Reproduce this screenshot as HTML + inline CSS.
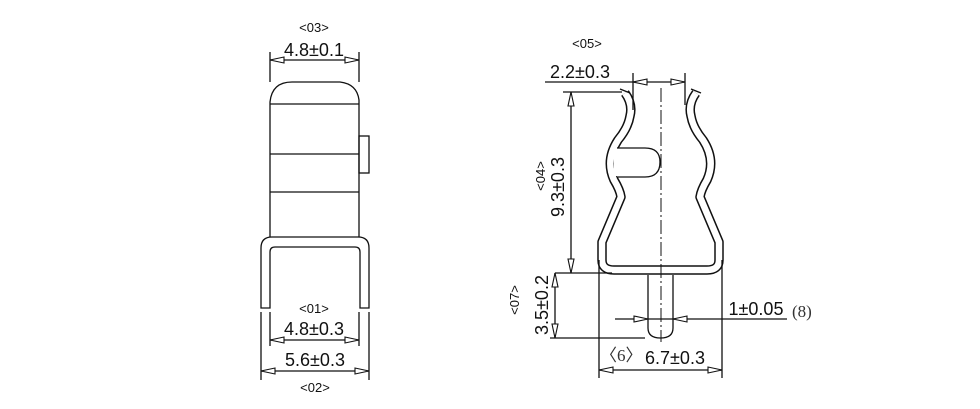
<!DOCTYPE html>
<html><head><meta charset="utf-8"><style>
html,body{margin:0;padding:0;background:#fff;}
svg{display:block}
text{font-family:"Liberation Sans",sans-serif;fill:#111}
.d{font-size:18px}
.s{font-size:13px}
.sf{font-family:"Liberation Serif",serif;font-size:17px;fill:#333}
</style></head><body>
<svg width="980" height="409" viewBox="0 0 980 409" xmlns="http://www.w3.org/2000/svg">
<g fill="none" stroke="#111" stroke-width="1.3">
<path d="M270,237 L270,102 Q272,82 292,82 L340,82 Q357,84 359,100 L359,237"/>
<line x1="270" y1="104" x2="359" y2="104"/>
<line x1="270" y1="154" x2="359" y2="154"/>
<line x1="270" y1="192" x2="359" y2="192"/>
<rect x="359" y="136" width="10" height="37"/>
<path d="M261,308 L261,248 Q261,237 272,237 L358,237 Q369,237 369,248 L369,308 L360,308 L360,252 Q360,247 355,247 L275,247 Q270,247 270,252 L270,308 Z"/>
<line x1="270" y1="52" x2="270" y2="82"/><line x1="359" y1="52" x2="359" y2="82"/>
<line x1="270" y1="60" x2="359" y2="60"/>
<line x1="270" y1="312" x2="270" y2="346"/><line x1="359" y1="312" x2="359" y2="346"/>
<line x1="270" y1="340" x2="359" y2="340"/>
<line x1="261" y1="312" x2="261" y2="380"/><line x1="369" y1="312" x2="369" y2="380"/>
<line x1="261" y1="371" x2="369" y2="371"/>
</g>
<g fill="#fff" stroke="#111" stroke-width="1.1">
<polygon points="270,60 284,57 284,63"/><polygon points="359,60 345,57 345,63"/>
<polygon points="270,340 284,337 284,343"/><polygon points="359,340 345,337 345,343"/>
<polygon points="261,371 275,368 275,374"/><polygon points="369,371 355,368 355,374"/>
</g>
<text class="s" x="314" y="32" text-anchor="middle">&lt;03&gt;</text>
<text class="d" x="314" y="56" text-anchor="middle">4.8±0.1</text>
<text class="s" x="314" y="313" text-anchor="middle">&lt;01&gt;</text>
<text class="d" x="314" y="335" text-anchor="middle">4.8±0.3</text>
<text class="d" x="315" y="366" text-anchor="middle">5.6±0.3</text>
<text class="s" x="315" y="392" text-anchor="middle">&lt;02&gt;</text>

<g fill="none" stroke-linejoin="round">
<path d="M625,93 Q633,104 630,116 Q628,128 618,140 Q605,160 614,180 Q620,190 621,197 L602,242 L602,260 Q602,270 614,270 L707,270 Q719,270 719,260 L719,242 L700,197 Q701,190 707,180 Q716,160 703,140 Q693,128 691,116 Q688,104 696,93" stroke="#111" stroke-width="9.5"/>
<path d="M625,93 Q633,104 630,116 Q628,128 618,140 Q605,160 614,180 Q620,190 621,197 L602,242 L602,260 Q602,270 614,270 L707,270 Q719,270 719,260 L719,242 L700,197 Q701,190 707,180 Q716,160 703,140 Q693,128 691,116 Q688,104 696,93" stroke="#fff" stroke-width="6.5"/>
</g>
<g fill="#fff" stroke="#111" stroke-width="1.3">
<path d="M617,148 L645,148 Q660,148 660,162 Q660,177 645,177 L617,177"/>
<path d="M648,275 L648,328 Q648,338 660.5,338 Q673,338 673,328 L673,275"/>
<line x1="620" y1="89" x2="630" y2="93"/><line x1="691" y1="89" x2="701" y2="93"/>
</g>
<rect x="614" y="149" width="5" height="27" fill="#fff"/>
<g fill="none" stroke="#111" stroke-width="1.3">
<line x1="661" y1="88" x2="661" y2="342" stroke-dasharray="14,3,2,3" stroke-width="1"/>
<line x1="545" y1="82" x2="685" y2="82"/>
<line x1="633" y1="73" x2="633" y2="110"/><line x1="685" y1="73" x2="685" y2="105"/>
<line x1="563" y1="92" x2="622" y2="92"/>
<line x1="555" y1="273" x2="612" y2="273"/>
<line x1="571" y1="92" x2="571" y2="273"/>
<line x1="555" y1="273" x2="555" y2="338"/>
<line x1="550" y1="338" x2="645" y2="338"/>
<line x1="615" y1="319" x2="787" y2="319"/>
<line x1="599" y1="260" x2="599" y2="378"/><line x1="722" y1="260" x2="722" y2="378"/>
<line x1="599" y1="370" x2="722" y2="370"/>
</g>
<g fill="#fff" stroke="#111" stroke-width="1.1">
<polygon points="633,82 647,79 647,85"/><polygon points="685,82 671,79 671,85"/>
<polygon points="571,92 568,106 574,106"/><polygon points="571,273 568,259 574,259"/>
<polygon points="555,273 552,287 558,287"/><polygon points="555,338 552,324 558,324"/>
<polygon points="648,319 634,316 634,322"/><polygon points="673,319 687,316 687,322"/>
<polygon points="599,370 613,367 613,373"/><polygon points="722,370 708,367 708,373"/>
</g>
<text class="s" x="587" y="48" text-anchor="middle">&lt;05&gt;</text>
<text class="d" x="580" y="78" text-anchor="middle">2.2±0.3</text>
<text class="d" transform="translate(564,187) rotate(-90)" text-anchor="middle">9.3±0.3</text>
<text class="s" transform="translate(545,176) rotate(-90)" text-anchor="middle">&lt;04&gt;</text>
<text class="d" transform="translate(548,305) rotate(-90)" text-anchor="middle">3.5±0.2</text>
<text class="s" transform="translate(519,300) rotate(-90)" text-anchor="middle">&lt;07&gt;</text>
<text class="d" x="756" y="315" text-anchor="middle">1±0.05</text>
<text class="sf" x="792" y="317">(8)</text>
<text class="sf" x="600" y="361">〈6〉</text>
<text class="d" x="675" y="364" text-anchor="middle">6.7±0.3</text>
</svg>
</body></html>
